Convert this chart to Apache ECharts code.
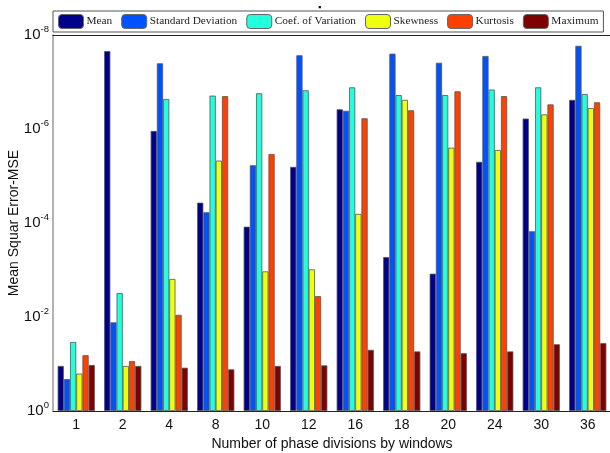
<!DOCTYPE html>
<html>
<head>
<meta charset="utf-8">
<script src="https://cdn.jsdelivr.net/npm/echarts@6/dist/echarts.min.js"></script>
<style>html,body{margin:0;padding:0;background:#fff;}#c{width:610px;height:453px;}</style>
</head>
<body>
<div id="c"></div>
<script>
var categories = ['1','2','4','8','10','12','16','18','20','24','30','36'];
var seriesNames = ['Mean','Standard Deviation','Coef. of Variation','Skewness','Kurtosis','Maximum'];
var meanVals = [0.11, 2.2e-8, 1.1e-6, 3.7e-5, 1.2e-4, 6.4e-6, 3.8e-7, 5.3e-4, 1.2e-3, 5e-6, 6e-7, 2.4e-7];
var stdVals  = [0.21, 0.013, 4e-8, 5.9e-5, 5.9e-6, 2.7e-8, 4.1e-7, 2.5e-8, 3.9e-8, 2.8e-8, 1.5e-4, 1.7e-8];
var cvVals   = [0.034, 3.1e-3, 2.3e-7, 1.95e-7, 1.74e-7, 1.5e-7, 1.3e-7, 1.9e-7, 1.9e-7, 1.45e-7, 1.3e-7, 1.8e-7];
var skewVals = [0.16, 0.11, 1.55e-3, 4.7e-6, 1.07e-3, 9.7e-4, 6.4e-5, 2.4e-7, 2.5e-6, 2.8e-6, 4.9e-7, 3.6e-7];
var kurtVals = [0.065, 0.087, 9e-3, 2e-7, 3.4e-6, 3.6e-3, 5.9e-7, 4e-7, 1.58e-7, 2e-7, 3e-7, 2.7e-7];
var maxVals  = [0.105, 0.11, 0.12, 0.13, 0.11, 0.107, 0.05, 0.054, 0.059, 0.054, 0.038, 0.036];
var colors = ['#00008c', '#0052ff', '#22ffdd', '#eeff10', '#ff4000', '#7e0000'];
var allVals = [meanVals, stdVals, cvVals, skewVals, kurtVals, maxVals];

var chart = echarts.init(document.getElementById('c'), null, {renderer: 'canvas'});
var series = seriesNames.map(function (n, i) {
  return {
    name: n, type: 'bar', data: allVals[i],
    barGap: '0%', barCategoryGap: '20%',
    itemStyle: {color: colors[i], borderColor: '#555', borderWidth: 0.8},
    emphasis: {disabled: true}
  };
});
function logLabel(v) {
  var e = Math.round(Math.log10(v));
  return '{b|10}{s|' + e + '}';
}
var option = {
  animation: false,
  color: colors,
  title: {text: '\u25AA', left: 313, top: -2, textStyle: {fontSize: 9, color: '#000', fontWeight: 'normal'}},
  legend: {
    left: 53, top: 11, width: 560, padding: [3, 5, 3, 5],
    itemWidth: 25, itemHeight: 14, itemGap: 9,
    borderColor: '#555', borderWidth: 1, backgroundColor: '#fff',
    textStyle: {fontFamily: 'Liberation Serif', fontSize: 11.3, color: '#222', padding: [0, 0, 0, -2]},
    itemStyle: {borderColor: '#666', borderWidth: 1},
    data: seriesNames
  },
  grid: {left: 53, top: 35, width: 558, height: 376, containLabel: false, outerBoundsMode: 'none'},
  xAxis: [{
    type: 'category', data: categories, position: 'bottom', z: 10,
    name: 'Number of phase divisions by windows', nameLocation: 'middle', nameGap: 23,
    nameTextStyle: {fontFamily: 'Liberation Sans', fontSize: 14, color: '#111'},
    axisLine: {lineStyle: {color: '#222', width: 1}},
    axisTick: {inside: true, alignWithLabel: true, length: 5, lineStyle: {color: '#000'}},
    axisLabel: {fontFamily: 'Liberation Sans', fontSize: 14, color: '#111', margin: 7}
  }, {
    type: 'category', data: categories, position: 'top', z: 10,
    axisLine: {lineStyle: {color: '#222', width: 1.2}},
    axisTick: {inside: true, alignWithLabel: true, length: 5, lineStyle: {color: '#333'}},
    axisLabel: {show: false}
  }],
  yAxis: [{
    type: 'log', logBase: 10, min: 1e-8, max: 1, inverse: true, interval: 2, z: 10,
    name: 'Mean Squar Error-MSE', nameLocation: 'middle', nameGap: 32, nameMoveOverlap: false,
    nameTextStyle: {fontFamily: 'Liberation Sans', fontSize: 14, color: '#111'},
    axisLine: {show: true, lineStyle: {color: '#999', width: 1.5}},
    axisTick: {inside: true, length: 4, lineStyle: {color: '#666'}},
    splitLine: {show: false},
    axisLabel: {
      formatter: logLabel, margin: 4,
      rich: {
        b: {fontFamily: 'Liberation Sans', fontSize: 15, color: '#111'},
        s: {fontFamily: 'Liberation Sans', fontSize: 9.5, color: '#111', padding: [0, 0, 11, 0]}
      }
    }
  }, {
    type: 'log', logBase: 10, min: 1e-8, max: 1, inverse: true, interval: 2, position: 'right', z: 10,
    axisLine: {show: true, lineStyle: {color: '#999', width: 1}},
    axisTick: {inside: true, length: 4, lineStyle: {color: '#666'}},
    splitLine: {show: false},
    axisLabel: {show: false}
  }],
  series: series
};
chart.setOption(option);
</script>
</body>
</html>
